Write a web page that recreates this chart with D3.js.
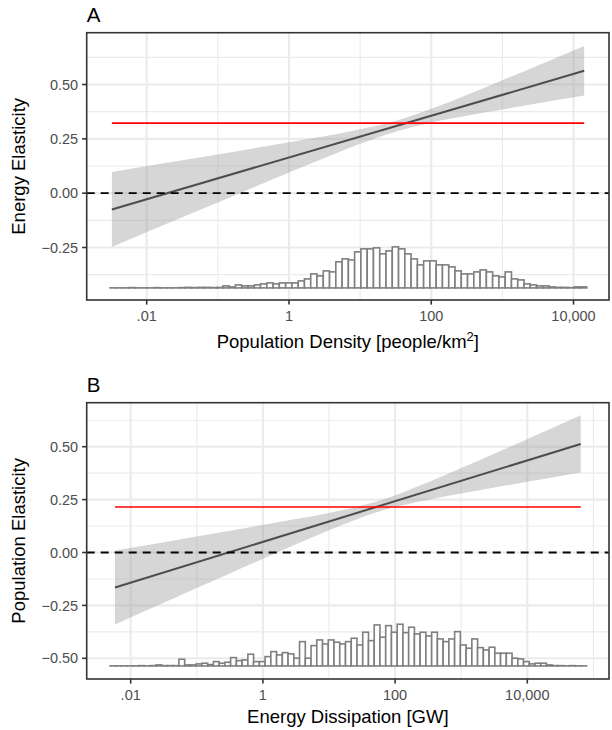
<!DOCTYPE html>
<html><head><meta charset="utf-8">
<script src="https://cdn.jsdelivr.net/npm/d3@7"></script>
<style>body{margin:0;background:#fff} svg{display:block} text{font-family:"Liberation Sans",Arial,Helvetica,sans-serif}</style>
</head><body><svg id="chart" width="612" height="730"></svg>
<script>
// ---------------- DATA ----------------
const xTicks = [0.01, 1, 100, 10000];
const xTickLabels = [".01", "1", "100", "10,000"];

const yTicksA = [-0.25, 0, 0.25, 0.5];
const yTickLabelsA = ["\u22120.25", "0.00", "0.25", "0.50"];
const yTicksB = [-0.5, -0.25, 0, 0.25, 0.5];
const yTickLabelsB = ["\u22120.50", "\u22120.25", "0.00", "0.25", "0.50"];

// Panel A: population density
const lineDensity = [0.00324, 14125];
const lineElasticityA = [-0.075, 0.563];
const ribbonDensity = [0.00324, 0.0316, 0.316, 1, 3.16, 10, 34, 100, 316, 1000, 2000, 14125];
const ribbonLowerA = [-0.248, -0.111, 0.026, 0.095, 0.162, 0.227, 0.286, 0.325, 0.356, 0.385, 0.402, 0.449];
const ribbonUpperA = [0.097, 0.151, 0.206, 0.234, 0.262, 0.294, 0.336, 0.388, 0.452, 0.520, 0.560, 0.677];
const refElasticityA = 0.322;
const histRangeA = [0.003048, 15346];
const histCountsA = [0,0,0,0.3,0,0,0,0.3,0,0,0,0.3,
  0.5,0.3,0.5,0.5,0.3,0.5, 2,1,3,2,2,3, 4,5,4,5,5,5,7,9,14,
  12,17,16,26,29,28,36,39,39,40,34,37,41,39,34,29,23,27,27,23,23,21,17,14,14,16,18,16,12,11,16,9,8,4,3,2,2,1,0.5,0.5,0.3,1,1];

// Panel B: energy dissipation
const lineEnergy = [0.00579, 64270];
const lineElasticityB = [-0.165, 0.513];
const ribbonEnergy = [0.00579, 0.0316, 0.316, 3.16, 10, 55.7, 316, 1000, 3162, 15849, 64270];
const ribbonLowerB = [-0.340, -0.237, -0.099, 0.039, 0.105, 0.193, 0.249, 0.279, 0.307, 0.345, 0.378];
const ribbonUpperB = [0.010, 0.049, 0.103, 0.158, 0.187, 0.243, 0.332, 0.399, 0.467, 0.564, 0.649];
const refElasticityB = 0.215;
const histRangeB = [0.004864, 79250];
const histCountsB = [0,0,0,0,0,0.3,0,0.3,1,0.3,0.3,0.3,
  6.7,1,1,2,2.7,1.3,4.3,2.7,3.7,8.3,5.3,6,11.7,4.3,4.3,9.3,14.3,11,13.3,12,7.7,24.3,7.7,20.3,26,22,26,23.7,
  22,24.3,27.7,21,33.7,25.3,41,28.7,40.3,33.7,41.7,33.3,38.7,32,33.7,30,33.7,27,24.3,27,34.3,21,17.7,27,18.3,16,18.7,12.7,12.7,12.7,7.7,7,4.3,2,2.7,2.7,1,0.3,0.3,0,0.3,0,0];

// ---------------- DRAW ----------------
const svg = d3.select("#chart");
const tickFont = 14.5, titleFont = 18.5, tagFont = 20.5;

function panel(cfg) {
  const {left, right, top, bottom} = cfg;
  const x = d3.scaleLog().domain(cfg.xDomain).range([left, right]);
  const y = d3.scaleLinear().domain(cfg.yDomain).range([bottom, top]);
  const g = svg.append("g");
  const clipId = "clip" + cfg.tag;
  svg.append("defs").append("clipPath").attr("id", clipId)
    .append("rect").attr("x", left).attr("y", top).attr("width", right - left).attr("height", bottom - top);
  const pg = g.append("g").attr("clip-path", `url(#${clipId})`);

  // minor grid
  const minorX = [1e-4, 0.1, 10, 1000, 1e5].filter(v => v >= cfg.xDomain[0] && v <= cfg.xDomain[1]);
  const minorY = [-0.625, -0.375, -0.125, 0.125, 0.375, 0.625].filter(v => v >= cfg.yDomain[0] && v <= cfg.yDomain[1]);
  pg.selectAll(".mx").data(minorX).enter().append("line")
    .attr("x1", d => x(d)).attr("x2", d => x(d)).attr("y1", top).attr("y2", bottom)
    .attr("stroke", "#ebebeb").attr("stroke-width", 1.1);
  pg.selectAll(".my").data(minorY).enter().append("line")
    .attr("y1", d => y(d)).attr("y2", d => y(d)).attr("x1", left).attr("x2", right)
    .attr("stroke", "#ebebeb").attr("stroke-width", 1.1);
  // major grid
  pg.selectAll(".gx").data(xTicks).enter().append("line")
    .attr("x1", d => x(d)).attr("x2", d => x(d)).attr("y1", top).attr("y2", bottom)
    .attr("stroke", "#ebebeb").attr("stroke-width", 2.1);
  pg.selectAll(".gy").data(cfg.yTicks).enter().append("line")
    .attr("y1", d => y(d)).attr("y2", d => y(d)).attr("x1", left).attr("x2", right)
    .attr("stroke", "#ebebeb").attr("stroke-width", 2.1);

  // histogram
  const n = cfg.hist.length;
  const lLo = Math.log10(cfg.histRange[0]), lHi = Math.log10(cfg.histRange[1]);
  const edge = i => Math.pow(10, lLo + i * (lHi - lLo) / n);
  const hy = d3.scaleLinear().domain([0, d3.max(cfg.hist)]).range([y(cfg.histBase), y(cfg.histTop)]);
  pg.selectAll(".bar").data(cfg.hist).enter().append("rect")
    .attr("x", (d, i) => x(edge(i)))
    .attr("width", (d, i) => x(edge(i + 1)) - x(edge(i)))
    .attr("y", d => Math.min(hy(d), hy(0) - 0.05))
    .attr("height", d => Math.max(hy(0) - hy(d), 0.05))
    .attr("fill", "#ffffff").attr("stroke", "#7f7f7f").attr("stroke-width", 1.6);

  // ribbon
  const rib = cfg.ribX.map((v, i) => ({x: v, lo: cfg.ribLo[i], hi: cfg.ribHi[i]}));
  pg.append("path").datum(rib)
    .attr("d", d3.area().x(d => x(d.x)).y0(d => y(d.lo)).y1(d => y(d.hi)).curve(d3.curveMonotoneX))
    .attr("fill", "#999999").attr("fill-opacity", 0.4);
  // fit line
  const ln = cfg.lineX.map((v, i) => ({x: v, y: cfg.lineY[i]}));
  pg.append("path").datum(ln)
    .attr("d", d3.line().x(d => x(d.x)).y(d => y(d.y)))
    .attr("stroke", "#4d4d4d").attr("stroke-width", 2).attr("fill", "none");
  // red reference line
  pg.append("line")
    .attr("x1", x(cfg.lineX[0])).attr("x2", x(cfg.lineX[1]))
    .attr("y1", y(cfg.ref)).attr("y2", y(cfg.ref))
    .attr("stroke", "#ff0000").attr("stroke-width", 1.7);
  // dashed zero
  pg.append("line")
    .attr("x1", left).attr("x2", right).attr("y1", y(0)).attr("y2", y(0))
    .attr("stroke", "#000").attr("stroke-width", 1.8).attr("stroke-dasharray", "8,6");

  // border
  g.append("rect").attr("x", left).attr("y", top).attr("width", right - left).attr("height", bottom - top)
    .attr("fill", "none").attr("stroke", "#333333").attr("stroke-width", 1.6);

  // y axis ticks
  g.selectAll(".yt").data(cfg.yTicks).enter().append("line")
    .attr("x1", left - 4.6).attr("x2", left).attr("y1", d => y(d)).attr("y2", d => y(d))
    .attr("stroke", "#333333").attr("stroke-width", 1.6);
  g.selectAll(".yl").data(cfg.yTicks).enter().append("text")
    .attr("x", left - 8.5).attr("y", d => y(d) + tickFont * 0.355)
    .attr("text-anchor", "end").attr("font-size", tickFont).attr("fill", "#4d4d4d")
    .text((d, i) => cfg.yLabels[i]);
  // x axis ticks
  g.selectAll(".xt").data(xTicks).enter().append("line")
    .attr("x1", d => x(d)).attr("x2", d => x(d)).attr("y1", bottom).attr("y2", bottom + 4.6)
    .attr("stroke", "#333333").attr("stroke-width", 1.6);
  g.selectAll(".xl").data(xTicks).enter().append("text")
    .attr("x", d => x(d)).attr("y", bottom + 20.5)
    .attr("text-anchor", "middle").attr("font-size", tickFont).attr("fill", "#4d4d4d")
    .text((d, i) => xTickLabels[i]);

  // titles
  const xt = g.append("text").attr("x", (left + right) / 2).attr("y", bottom + cfg.xTitleDy)
    .attr("text-anchor", "middle").attr("font-size", titleFont).attr("fill", "#000");
  xt.append("tspan").text(cfg.xTitle[0]);
  if (cfg.xTitle.length > 1) {
    xt.append("tspan").attr("font-size", 13).attr("dy", -7.5).text(cfg.xTitle[1]);
    xt.append("tspan").attr("dy", 7.5).text(cfg.xTitle[2]);
  }
  g.append("text").attr("transform", `translate(25,${(top + bottom) / 2}) rotate(-90)`)
    .attr("text-anchor", "middle").attr("font-size", titleFont).attr("fill", "#000")
    .text(cfg.yTitle);
  g.append("text").attr("x", left).attr("y", cfg.tagY)
    .attr("font-size", tagFont).attr("fill", "#000").text(cfg.tag);
}

panel({
  tag: "A", tagY: 21.7,
  left: 86.7, right: 609, top: 32.7, bottom: 300,
  xDomain: [Math.pow(10, -2.8435), Math.pow(10, 4.499)],
  yDomain: [-0.4916, 0.7384],
  yTicks: yTicksA, yLabels: yTickLabelsA,
  hist: histCountsA, histRange: histRangeA, histBase: -0.436, histTop: -0.247,
  ribX: ribbonDensity, ribLo: ribbonLowerA, ribHi: ribbonUpperA,
  lineX: lineDensity, lineY: lineElasticityA, ref: refElasticityA,
  xTitle: ["Population Density [people/km", "2", "]"], xTitleDy: 48.3,
  yTitle: "Energy Elasticity"
});

panel({
  tag: "B", tagY: 391.7,
  left: 86.7, right: 609, top: 402.7, bottom: 679,
  xDomain: [Math.pow(10, -2.6657), Math.pow(10, 5.236)],
  yDomain: [-0.5978, 0.708],
  yTicks: yTicksB, yLabels: yTickLabelsB,
  hist: histCountsB, histRange: histRangeB, histBase: -0.536, histTop: -0.339,
  ribX: ribbonEnergy, ribLo: ribbonLowerB, ribHi: ribbonUpperB,
  lineX: lineEnergy, lineY: lineElasticityB, ref: refElasticityB,
  xTitle: ["Energy Dissipation [GW]"], xTitleDy: 44.3,
  yTitle: "Population Elasticity"
});
</script></body></html>
